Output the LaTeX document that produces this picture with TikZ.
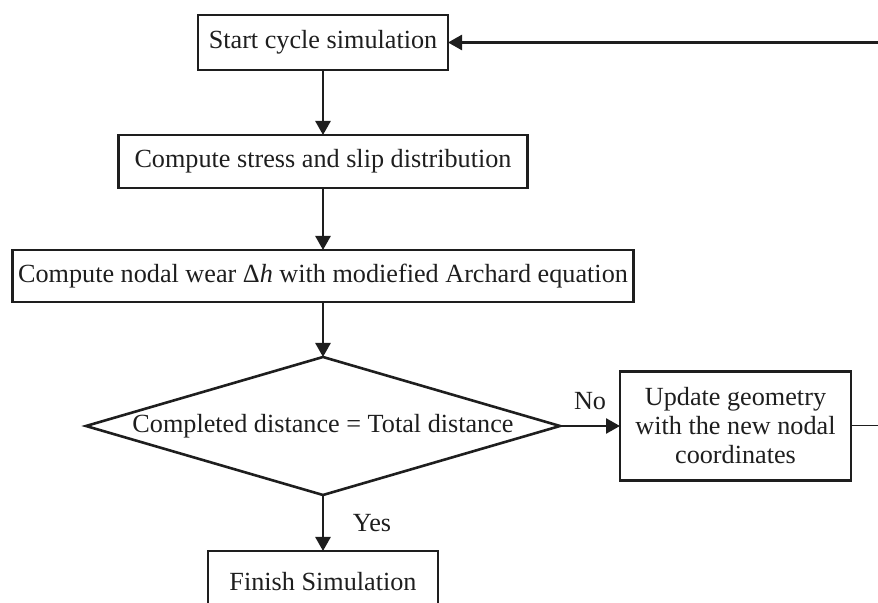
\documentclass[tikz,border=0pt]{standalone}
\usepackage{fontspec}
\setmainfont{Liberation Serif}
\usetikzlibrary{positioning, arrows.meta, shapes.geometric}
\definecolor{ink}{HTML}{1E1E1E}

\begin{document}
\begin{tikzpicture}[
        x=0.5pt, y=-0.5pt,
        node distance=30pt and 30pt,
        box/.style={rectangle, draw=ink, line width=1.3pt, outer sep=0pt, align=center, inner sep=0pt, text=ink, font=\fontsize{13.1}{14.5}\selectfont},
        test/.style={diamond, draw=ink, line width=1.3pt, outer sep=0pt, aspect=3.43, inner sep=0pt, minimum width=237pt, minimum height=69pt, text=ink, font=\fontsize{13.1}{14.5}\selectfont},
        arr/.style={-{Triangle[length=7pt, width=7.5pt]}, line width=1.3pt, draw=ink},
        lbl/.style={text=ink, font=\fontsize{13.1}{14.5}\selectfont}
    ]
        \useasboundingbox (0,0) rectangle (878,603);

        \node[box, minimum width=125pt, minimum height=27.5pt] (start) at (323,42.5) {Start cycle simulation};
        \node[box, minimum width=204.5pt, minimum height=26.5pt, below=32.5pt of start] (stress) {Compute stress and slip distribution};
        \node[box, minimum width=310.5pt, minimum height=26pt, below=31pt of stress] (wear) {Compute nodal wear Δ\textit{h} with modiefied Archard equation};
        \node[test, below=27.5pt of wear] (check) {Completed distance = Total distance};
        \node[box, minimum width=115.5pt, minimum height=54.5pt, right=30pt of check] (update) {Update geometry\\with the new nodal\\coordinates};
        \node[box, minimum width=115pt, minimum height=31pt, below=28pt of check] (finish) {Finish Simulation};

        % loop back, runs off the right edge
        \coordinate (loopin) at (878,42.5);
        \coordinate (loopout) at (878,426);

        \draw[arr] (start) -- (stress);
        \draw[arr] (stress) -- (wear);
        \draw[arr] (wear) -- (check);
        \draw[arr] (check) -- node[lbl, above=4pt] {No} (update);
        \draw[arr] (check) -- node[lbl, right=11pt] {Yes} (finish);
        \draw[ink, line width=0.5pt] (update) -- (loopout);
        \draw[arr] (loopin) -- (start);
    \end{tikzpicture}
\end{document}
